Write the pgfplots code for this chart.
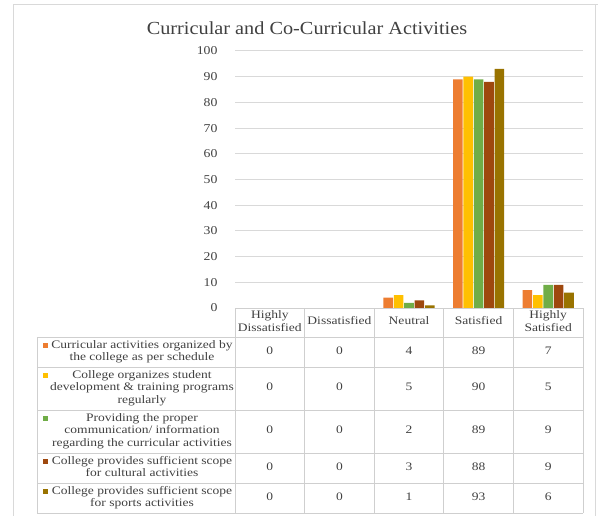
\documentclass[border=0pt]{standalone}
\usepackage{pgfplots}
\usepackage{pgfplotstable}
\pgfplotsset{compat=1.18}
\usepackage{fontspec}
\setmainfont{Liberation Serif}
\definecolor{c1}{HTML}{ED7D31}
\definecolor{c2}{HTML}{FFC000}
\definecolor{c3}{HTML}{70AD47}
\definecolor{c4}{HTML}{9E480E}
\definecolor{c5}{HTML}{997300}
\definecolor{gridc}{HTML}{D9D9D9}
\definecolor{linec}{HTML}{CFCFCF}
\definecolor{txt}{HTML}{404040}

\newcommand{\ct}[1]{\scalebox{1.18}[1]{\fontsize{11.5}{12.5}\selectfont\begin{tabular}{@{}c@{}}#1\end{tabular}}}

\pgfplotstableread{
x s1 s2 s3 s4 s5
0 0 0 0 0 0
1 0 0 0 0 0
2 4 5 2 3 1
3 89 90 89 88 93
4 7 5 9 9 6
}\datatable

\begin{document}
\begin{tikzpicture}
\begin{scope}[x=1bp,y=-1bp]
\useasboundingbox (0,0) rectangle (598,516);
\draw[gridc, line width=1pt] (13,516) -- (13,5) -- (598,5);
\draw[gridc, line width=1pt] (595,5) -- (595,516);
\node[text=txt] at (307,28) {\scalebox{1.1}[1]{\fontsize{18.5}{21}\selectfont Curricular and Co-Curricular Activities}};
\end{scope}

\begin{axis}[
  at={(235bp,-308bp)}, anchor=south west,
  scale only axis, width=348bp, height=257bp,
  xmin=-0.5, xmax=4.5, ymin=0, ymax=100,
  ytick={0,10,...,100}, xtick=\empty,
  axis line style={draw=none},
  tick style={draw=none},
  ymajorgrids, grid style={gridc, line width=1pt},
  ybar=0.8bp, bar width=9.6bp,
  yticklabel={\scalebox{1.15}[1]{\pgfmathprintnumber[assume math mode=true]{\tick}}},
  yticklabel style={font=\fontsize{12}{14}\selectfont, text=txt, xshift=-14bp},
  clip=false,
]
\addplot[fill=c1, draw=none] table[x=x,y=s1]{\datatable};
\addplot[fill=c2, draw=none] table[x=x,y=s2]{\datatable};
\addplot[fill=c3, draw=none] table[x=x,y=s3]{\datatable};
\addplot[fill=c4, draw=none] table[x=x,y=s4]{\datatable};
\addplot[fill=c5, draw=none] table[x=x,y=s5]{\datatable};
\end{axis}

\begin{scope}[x=1bp,y=-1bp]
% table grid
\draw[linec, line width=0.8pt] (235,308) -- (583,308);
\foreach \yy in {337,367,410,453,483,513}{
  \draw[linec, line width=0.8pt] (37,\yy) -- (583,\yy);
}
\draw[linec, line width=0.8pt] (37,337) -- (37,513);
\foreach \xx in {235,304.6,374.2,443.8,513.4,583}{
  \draw[linec, line width=0.8pt] (\xx,308) -- (\xx,513);
}
% header
\tikzset{cell/.style={text=txt, inner sep=0pt}}
\node[cell] at (269.8,322.5) {\ct{Highly\\Dissatisfied}};
\node[cell] at (339.4,322.5) {\ct{Dissatisfied}};
\node[cell] at (409.0,322.5) {\ct{Neutral}};
\node[cell] at (478.6,322.5) {\ct{Satisfied}};
\node[cell] at (548.2,322.5) {\ct{Highly\\Satisfied}};
% legend cells
\fill[c1] (43,342.5) rectangle (48,347.5);
\node[cell] at (142,352) {\ct{Curricular activities organized by\\the college as per schedule}};
\fill[c2] (43,373) rectangle (48,378);
\node[cell] at (142,388.5) {\ct{College organizes student\\development \& training programs\\regularly}};
\fill[c3] (43,416) rectangle (48,421);
\node[cell] at (142,431.5) {\ct{Providing the proper\\communication/ information\\regarding the curricular activities}};
\fill[c4] (43,458.5) rectangle (48,463.5);
\node[cell] at (142,468) {\ct{College provides sufficient scope\\for cultural activities}};
\fill[c5] (43,488.5) rectangle (48,493.5);
\node[cell] at (142,498) {\ct{College provides sufficient scope\\for sports activities}};
% values
\foreach \r/\yc in {1/352,2/388.5,3/431.5,4/468,5/498}{
  \foreach \c in {0,...,4}{
    \pgfplotstablegetelem{\c}{s\r}\of\datatable
    \node[cell] at ({235+69.6*(\c+0.5)},\yc) {\ct{\pgfplotsretval}};
  }
}
\end{scope}
\end{tikzpicture}
\end{document}
